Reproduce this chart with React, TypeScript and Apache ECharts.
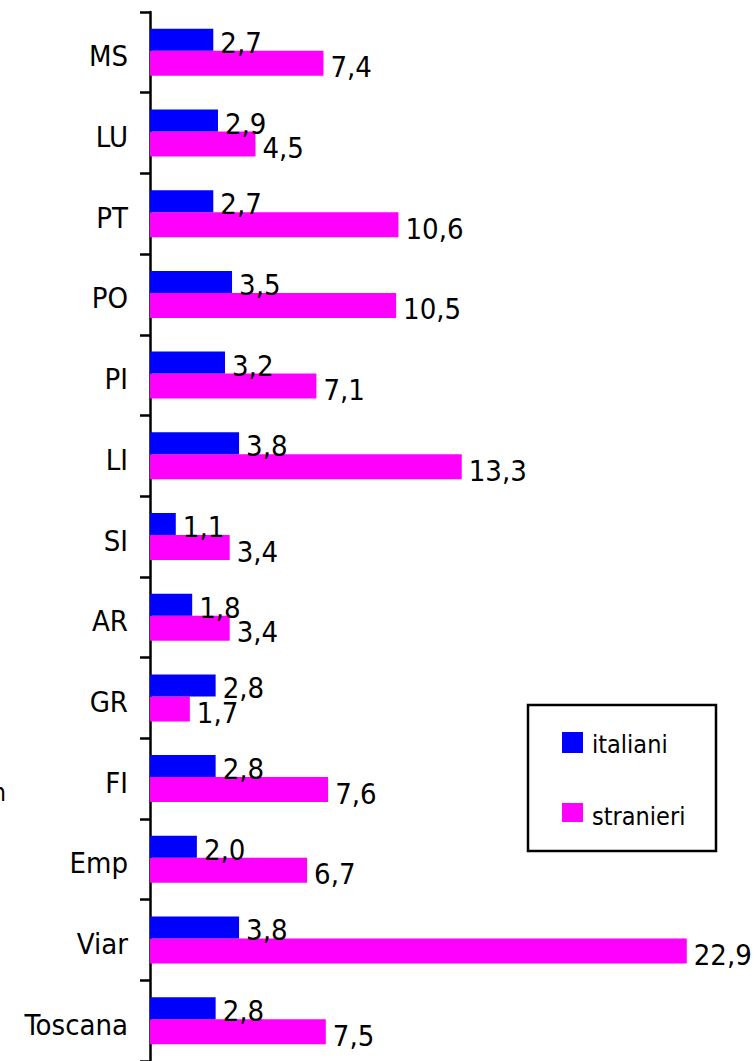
import React, { useEffect, useRef } from "react";
import * as echarts from "echarts";

const categories = ["MS", "LU", "PT", "PO", "PI", "LI", "SI", "AR", "GR", "FI", "Emp", "Viar", "Toscana"];
const italiani = [2.7, 2.9, 2.7, 3.5, 3.2, 3.8, 1.1, 1.8, 2.8, 2.8, 2.0, 3.8, 2.8];
const stranieri = [7.4, 4.5, 10.6, 10.5, 7.1, 13.3, 3.4, 3.4, 1.7, 7.6, 6.7, 22.9, 7.5];
const seriesNames = ["italiani", "stranieri"];

const FONT = "'DejaVu Sans Condensed', 'DejaVu Sans', sans-serif";

export default function App() {
  const ref = useRef<HTMLDivElement>(null);
  useEffect(() => {
    const chart = echarts.init(ref.current!, null, { renderer: "svg" });
    const label = (dy: number) => ({
      show: true,
      position: "right",
      distance: 7,
      offset: [0, dy],
      color: "#000",
      fontFamily: FONT,
      fontSize: 29,
      formatter: (p: any) => p.value.toFixed(1).replace(".", ","),
    });
    chart.setOption({
      animation: false,
      backgroundColor: "#fff",
      grid: { left: 150, top: 12, width: 586, height: 1052 },
      xAxis: {
        type: "value",
        min: 0,
        max: 25,
        show: false,
      },
      yAxis: {
        type: "category",
        data: categories,
        inverse: true,
        axisLine: { show: true, lineStyle: { color: "#000", width: 2.5 } },
        axisTick: { show: true, length: 10, lineStyle: { color: "#000", width: 2.5 } },
        axisLabel: {
          color: "#000",
          fontFamily: FONT,
          fontSize: 29,
          margin: 22,
          formatter: "{a|{value}}",
          rich: { a: { color: "#000", fontFamily: FONT, fontSize: 29, padding: [8, 0, 0, 0] } },
        },
        splitLine: { show: false },
      },
      legend: { show: false },
      series: [
        {
          name: seriesNames[0],
          type: "bar",
          data: italiani,
          barWidth: 22,
          barGap: "0%",
          itemStyle: { color: "#0000FF" },
          label: label(3),
          z: 4,
        },
        {
          name: seriesNames[1],
          type: "bar",
          data: stranieri,
          barWidth: 25,
          barGap: "0%",
          itemStyle: { color: "#FF00FF" },
          label: label(4),
          z: 2,
        },
      ],
      graphic: [
        {
          type: "rect",
          shape: { x: 528, y: 705, width: 188, height: 146 },
          style: { fill: "#fff", stroke: "#000", lineWidth: 2.5 },
        },
        {
          type: "rect",
          shape: { x: 562, y: 732, width: 21, height: 21 },
          style: { fill: "#0000FF" },
        },
        {
          type: "text",
          x: 592,
          y: 744,
          style: { text: seriesNames[0], font: `25px ${FONT}`, fill: "#000", textVerticalAlign: "middle" },
        },
        {
          type: "rect",
          shape: { x: 562, y: 803, width: 21, height: 19 },
          style: { fill: "#FF00FF" },
        },
        {
          type: "text",
          x: 592,
          y: 816,
          style: { text: seriesNames[1], font: `25px ${FONT}`, fill: "#000", textVerticalAlign: "middle" },
        },
        {
          type: "text",
          x: 6,
          y: 792,
          style: { text: "n", font: `25px ${FONT}`, fill: "#000", textAlign: "right", textVerticalAlign: "middle" },
        },
      ],
    });
    return () => chart.dispose();
  }, []);
  return <div ref={ref} style={{ position: "fixed", left: 0, top: 0, width: 754, height: 1061 }} />;
}
